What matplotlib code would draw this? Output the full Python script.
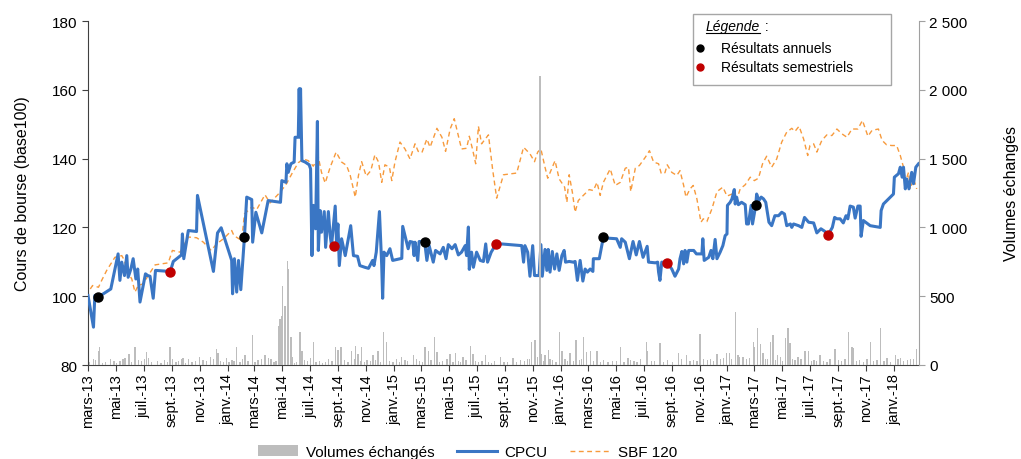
import matplotlib
matplotlib.use("Agg")
import matplotlib.pyplot as plt
from matplotlib.lines import Line2D
from matplotlib.patches import Patch, Rectangle
import pandas as pd
import numpy as np

plt.rcParams['font.family'] = ['Liberation Sans', 'DejaVu Sans']

START = pd.Timestamp('2013-03-01')

# CPCU share price (base 100): days since 2013-03-01, value
cpcu_days = [0, 12, 15, 22, 50, 66, 70, 74, 80, 85, 88, 94, 99, 105, 109, 114, 126, 131, 136, 143,
             148, 169, 180, 187, 205, 207, 210, 220, 238, 240, 275, 284, 292, 315, 317, 321, 326, 330, 335, 343,
             348, 359, 361, 368, 381, 395, 422, 425, 434, 436, 439, 445, 452, 454, 461, 463, 465, 466, 469, 476,
             485, 488, 491, 494, 499, 503, 505, 509, 512, 518, 521, 527, 531, 534, 542, 545, 548, 551, 556, 564,
             576, 582, 591, 596, 607, 615, 624, 627, 632, 639, 644, 646, 649, 655, 662, 668, 688, 690, 702, 706,
             712, 715, 717, 723, 726, 738, 743, 748, 757, 762, 772, 779, 785, 790, 798, 805, 812, 819, 827, 830,
             834, 836, 841, 845, 852, 860, 867, 872, 876, 884, 895, 906, 951, 955, 958, 964, 969, 975, 979, 984,
             989, 993, 996, 1002, 1006, 1009, 1013, 1018, 1023, 1028, 1033, 1039, 1044, 1047, 1055, 1064, 1068, 1073, 1079, 1085,
             1090, 1095, 1101, 1107, 1108, 1121, 1130, 1137, 1159, 1167, 1170, 1178, 1187, 1195, 1202, 1209, 1217, 1226, 1229, 1244,
             1249, 1251, 1254, 1258, 1270, 1280, 1287, 1295, 1298, 1302, 1306, 1309, 1313, 1317, 1328, 1334, 1346, 1348, 1351, 1361,
             1366, 1370, 1375, 1379, 1386, 1392, 1397, 1401, 1402, 1408, 1412, 1417, 1419, 1422, 1426, 1433, 1441, 1444, 1448, 1454,
             1457, 1464, 1466, 1471, 1476, 1481, 1486, 1493, 1499, 1506, 1514, 1521, 1527, 1532, 1540, 1543, 1547, 1558, 1565, 1571,
             1580, 1591, 1598, 1607, 1616, 1623, 1632, 1637, 1642, 1649, 1656, 1662, 1666, 1671, 1678, 1682, 1688, 1693, 1695, 1700,
             1707, 1715, 1737, 1739, 1744, 1766, 1768, 1777, 1781, 1785, 1788, 1792, 1795, 1800, 1806, 1810, 1815, 1821]
cpcu_vals = [100.2, 91.0, 100.2, 99.7, 102.1, 112.3, 104.6, 109.9, 106.0, 111.8, 105.5, 107.9, 110.9, 105.0, 107.9, 98.3, 106.5, 106.0, 105.8, 99.4,
             107.5, 107.3, 107.0, 110.1, 112.0, 118.1, 110.9, 119.1, 118.8, 129.3, 107.2, 118.4, 119.9, 110.4, 100.7, 110.9, 101.2, 110.4, 101.9, 117.2,
             128.8, 128.1, 115.7, 124.4, 118.4, 127.8, 127.3, 133.6, 133.1, 138.5, 136.0, 138.5, 139.0, 146.2, 146.2, 160.3, 146.2, 160.3, 139.4, 139.0,
             138.2, 137.0, 111.8, 126.4, 119.6, 150.8, 113.3, 124.9, 118.6, 124.6, 114.2, 124.6, 117.6, 114.7, 126.2, 115.2, 121.0, 108.9, 116.7, 111.8,
             120.5, 111.8, 111.6, 108.9, 108.4, 108.1, 110.4, 108.9, 112.8, 124.6, 108.9, 99.4, 112.8, 111.8, 113.8, 110.4, 111.0, 120.3, 113.8, 115.9,
             115.7, 111.8, 115.7, 110.4, 115.9, 115.9, 110.4, 114.7, 109.9, 113.3, 112.3, 114.2, 110.9, 115.0, 113.8, 115.0, 112.0, 112.8, 114.7, 111.8,
             120.1, 107.8, 112.8, 108.4, 112.8, 110.4, 110.1, 115.2, 109.9, 112.8, 115.2, 115.2, 114.7, 109.9, 114.7, 112.8, 105.8, 114.7, 106.0, 106.0,
             106.0, 115.0, 105.8, 113.6, 107.5, 113.6, 107.0, 113.0, 107.9, 112.3, 107.5, 111.8, 113.3, 109.9, 110.1, 109.9, 110.1, 104.6, 110.4, 104.4,
             107.9, 107.0, 107.9, 107.2, 110.9, 110.9, 117.2, 116.9, 116.7, 114.2, 116.7, 115.7, 110.9, 115.9, 112.0, 115.9, 111.3, 114.5, 109.9, 109.7,
             109.9, 107.0, 104.6, 109.9, 109.7, 107.9, 105.8, 107.9, 110.9, 113.0, 109.4, 113.3, 109.9, 113.3, 113.3, 112.3, 112.3, 116.7, 110.4, 111.3,
             113.3, 110.9, 116.5, 110.9, 112.8, 114.7, 117.6, 118.1, 126.4, 127.3, 128.3, 131.0, 126.8, 128.8, 126.6, 127.3, 126.6, 121.0, 121.0, 126.4,
             121.0, 126.4, 129.7, 127.8, 128.8, 128.3, 127.3, 121.5, 120.5, 123.4, 123.4, 124.4, 123.9, 120.5, 121.0, 120.0, 121.0, 120.5, 120.0, 122.9,
             121.5, 121.3, 118.4, 119.6, 118.8, 117.9, 120.0, 122.9, 122.5, 122.5, 121.3, 123.4, 122.5, 126.2, 125.9, 122.7, 126.2, 126.2, 117.4, 122.0,
             121.3, 120.5, 120.0, 124.9, 126.8, 129.7, 134.6, 135.6, 137.5, 134.6, 137.5, 131.2, 134.1, 131.2, 136.0, 132.7, 137.5, 138.5]

# SBF 120 (base 100)
sbf_days = [5, 10, 23, 30, 41, 59, 74, 80, 85, 96, 103, 110, 121, 132, 147, 176, 185, 202, 220, 238,
            253, 270, 282, 297, 315, 320, 337, 343, 359, 370, 388, 399, 421, 434, 447, 461, 472, 483, 494, 505,
            512, 520, 531, 544, 556, 567, 575, 586, 593, 600, 610, 620, 629, 637, 644, 651, 661, 666, 673, 684,
            695, 706, 717, 724, 732, 743, 750, 765, 776, 784, 794, 803, 812, 819, 830, 836, 843, 850, 856, 863,
            871, 878, 887, 896, 911, 940, 955, 969, 979, 986, 993, 1002, 1008, 1017, 1024, 1033, 1045, 1050, 1055, 1062,
            1068, 1075, 1086, 1099, 1108, 1116, 1123, 1130, 1145, 1156, 1167, 1178, 1185, 1190, 1200, 1209, 1222, 1231, 1240, 1251,
            1257, 1265, 1270, 1280, 1291, 1298, 1306, 1311, 1320, 1327, 1335, 1344, 1349, 1357, 1368, 1379, 1392, 1401, 1412, 1423,
            1430, 1441, 1452, 1461, 1470, 1479, 1488, 1499, 1510, 1521, 1532, 1543, 1550, 1559, 1569, 1578, 1583, 1591, 1598, 1609,
            1620, 1631, 1642, 1653, 1664, 1675, 1688, 1698, 1710, 1719, 1733, 1741, 1751, 1762, 1773, 1781, 1788, 1792, 1799, 1803,
            1810, 1817]
sbf_vals = [102.1, 103.1, 102.6, 104.6, 107.5, 111.3, 111.8, 110.4, 107.5, 105.0, 101.2, 103.1, 103.6, 106.0, 109.1, 109.7, 113.3, 112.8, 117.2, 117.0,
            115.7, 113.3, 115.2, 116.7, 119.1, 117.6, 116.2, 123.9, 125.9, 125.2, 129.5, 127.1, 130.2, 132.4, 135.6, 138.8, 139.9, 139.4, 137.8, 140.4,
            136.0, 132.9, 137.5, 141.9, 139.0, 138.0, 135.1, 128.8, 135.1, 139.1, 134.9, 136.5, 141.1, 139.0, 133.1, 138.2, 137.5, 133.6, 139.0, 144.8,
            142.8, 139.9, 144.3, 142.1, 141.7, 145.7, 143.3, 148.8, 146.2, 142.1, 148.6, 151.6, 146.7, 142.8, 143.0, 146.5, 142.8, 138.5, 149.4, 144.3,
            145.7, 146.9, 137.0, 128.5, 135.3, 135.8, 143.3, 141.4, 139.1, 141.9, 142.8, 137.5, 134.3, 137.2, 139.4, 134.1, 131.7, 127.3, 135.3, 130.2,
            124.4, 127.8, 129.3, 131.0, 130.7, 133.1, 129.3, 133.1, 137.0, 132.2, 133.1, 137.2, 137.5, 130.4, 137.2, 138.0, 140.4, 142.3, 139.0, 138.5,
            135.6, 135.9, 138.2, 136.0, 135.1, 136.5, 132.2, 128.8, 131.2, 132.2, 128.3, 121.5, 122.5, 121.7, 125.4, 130.4, 131.7, 129.1, 129.7, 128.3,
            131.2, 132.4, 134.6, 133.6, 134.3, 138.5, 140.7, 137.5, 139.9, 144.8, 147.7, 148.8, 147.9, 149.4, 145.7, 140.9, 143.8, 144.3, 141.9, 145.3,
            146.9, 146.7, 148.6, 147.2, 146.2, 148.6, 148.6, 151.1, 146.5, 148.2, 148.6, 145.3, 144.0, 143.8, 143.8, 140.9, 137.5, 133.1, 136.0, 131.2,
            134.1, 131.2]

# Results publications
annual_days = [22, 343, 738, 1130, 1464]
annual_vals = [99.7, 117.2, 115.9, 117.2, 126.4]
semester_days = [180, 539, 895, 1270, 1623]
semester_vals = [107.0, 114.7, 115.2, 109.7, 117.9]

# Traded volumes (right axis): the visible taller bars
vol_days = [12, 24, 26, 50, 70, 81, 90, 103, 129, 132, 180, 186, 205, 208, 282, 285, 309, 326, 344, 360,
            388, 395, 401, 417, 421, 425, 427, 432, 437, 439, 445, 448, 465, 469, 488, 494, 542, 548, 555, 578,
            586, 592, 600, 625, 636, 648, 655, 688, 713, 739, 746, 759, 765, 794, 805, 822, 838, 844, 871, 904,
            932, 973, 980, 991, 995, 1002, 1009, 1033, 1039, 1057, 1070, 1086, 1093, 1101, 1116, 1167, 1184, 1225, 1227, 1254,
            1294, 1313, 1342, 1379, 1400, 1406, 1419, 1425, 1436, 1459, 1461, 1468, 1474, 1480, 1496, 1502, 1511, 1529, 1535, 1539,
            1557, 1572, 1579, 1605, 1638, 1667, 1675, 1678, 1715, 1738, 1752, 1770, 1781, 1816]
vol_vals = [44, 104, 128, 44, 30, 50, 80, 130, 97, 50, 130, 40, 45, 50, 116, 90, 20, 130, 75, 220,
            75, 50, 40, 286, 334, 358, 576, 431, 758, 698, 203, 60, 240, 104, 50, 167, 130, 110, 130, 100,
            140, 80, 130, 75, 100, 237, 170, 60, 70, 130, 100, 201, 95, 80, 90, 60, 140, 80, 70, 55,
            50, 170, 180, 2100, 80, 75, 110, 237, 100, 90, 184, 201, 95, 100, 105, 130, 50, 165, 105, 160,
            90, 75, 225, 80, 90, 90, 383, 75, 60, 167, 130, 267, 150, 90, 167, 218, 75, 194, 267, 160,
            60, 100, 100, 70, 116, 237, 130, 120, 167, 267, 50, 75, 50, 116]

# Traded volumes: small background bars near the baseline
vol_small_days = [4, 17, 31, 38, 57, 63, 77, 96, 110, 117, 124, 140, 152, 160, 167, 174, 193, 199, 214, 221,
                  228, 236, 245, 252, 260, 268, 275, 290, 297, 303, 316, 320, 333, 338, 351, 366, 373, 381, 408, 412,
                  452, 457, 475, 481, 500, 507, 514, 520, 528, 535, 562, 570, 584, 597, 606, 612, 619, 630, 642, 661,
                  669, 676, 683, 695, 701, 720, 727, 733, 752, 771, 778, 787, 800, 812, 817, 829, 849, 856, 864, 878,
                  885, 892, 912, 920, 940, 948, 957, 964, 968, 985, 999, 1013, 1018, 1026, 1046, 1051, 1064, 1077, 1082, 1108,
                  1123, 1131, 1140, 1150, 1158, 1175, 1190, 1197, 1204, 1212, 1236, 1242, 1262, 1270, 1282, 1301, 1320, 1328, 1335, 1350,
                  1358, 1365, 1372, 1387, 1393, 1411, 1428, 1443, 1450, 1486, 1490, 1507, 1518, 1523, 1545, 1550, 1563, 1586, 1592, 1598,
                  1612, 1620, 1627, 1645, 1652, 1660, 1685, 1692, 1700, 1708, 1722, 1730, 1745, 1760, 1776, 1788, 1796, 1803, 1810]
vol_small_vals = [20, 35, 15, 25, 30, 18, 40, 22, 35, 28, 45, 20, 30, 15, 38, 25, 20, 30, 18, 42,
                  25, 30, 55, 35, 28, 60, 45, 30, 25, 50, 35, 28, 22, 40, 30, 25, 35, 45, 20, 30,
                  18, 25, 35, 28, 20, 32, 15, 22, 40, 30, 35, 25, 45, 30, 20, 38, 28, 35, 22, 30,
                  25, 40, 20, 35, 28, 45, 30, 25, 35, 20, 28, 40, 25, 30, 22, 35, 28, 20, 30, 25,
                  18, 30, 22, 25, 20, 35, 28, 45, 40, 55, 30, 40, 35, 25, 45, 30, 28, 35, 40, 30,
                  25, 35, 20, 30, 28, 22, 35, 30, 25, 40, 28, 30, 25, 35, 20, 45, 30, 35, 28, 40,
                  35, 45, 30, 40, 50, 45, 55, 40, 50, 45, 40, 35, 55, 30, 45, 35, 40, 30, 35, 28,
                  30, 25, 40, 35, 28, 45, 30, 35, 25, 40, 28, 35, 30, 25, 40, 30, 35, 45, 40]

tick_labels = ['mars-13', 'mai-13', 'juil.-13', 'sept.-13', 'nov.-13',
               'janv.-14', 'mars-14', 'mai-14', 'juil.-14', 'sept.-14', 'nov.-14',
               'janv.-15', 'mars-15', 'mai-15', 'juil.-15', 'sept.-15', 'nov.-15',
               'janv.-16', 'mars-16', 'mai-16', 'juil.-16', 'sept.-16', 'nov.-16',
               'janv.-17', 'mars-17', 'mai-17', 'juil.-17', 'sept.-17', 'nov.-17',
               'janv.-18']
tick_dates = pd.date_range('2013-03-01', '2018-01-01', freq='2MS')


def to_dates(days):
    return START + pd.to_timedelta(np.asarray(days), unit='D')


BLUE = '#3a76c4'
ORANGE = '#f79a3c'
GREY = '#bdbdbd'

fig = plt.figure(figsize=(10.21, 4.60), dpi=100)
W, H = 1021, 460
ax = fig.add_axes([88 / W, 1 - 366 / H, (919 - 88) / W, (366 - 22) / H])
ax2 = ax.twinx()

ax.plot(to_dates(sbf_days), sbf_vals, color=ORANGE, lw=1.0, dashes=(3.5, 2.5), zorder=2)
ax.plot(to_dates(cpcu_days), cpcu_vals, color=BLUE, lw=2.2, zorder=3, solid_joinstyle='round')
ax.plot(to_dates(annual_days), annual_vals, 'o', color='black', ms=6.5, zorder=4)
ax.plot(to_dates(semester_days), semester_vals, 'o', color='#c00000', ms=6.5, zorder=4)

ax2.bar(to_dates(vol_small_days), vol_small_vals, width=2.8, color=GREY, zorder=1)
ax2.bar(to_dates(vol_days), vol_vals, width=2.8, color=GREY, zorder=1)

ax.set_xlim(START, START + pd.Timedelta(days=1822))
ax.set_ylim(80, 180)
ax.set_yticks(range(80, 181, 20))
ax2.set_ylim(0, 2500)
ax2.set_yticks(range(0, 2501, 500))
ax2.set_yticklabels(['0', '500', '1 000', '1 500', '2 000', '2 500'])

ax.set_xticks(tick_dates)
ax.set_xticklabels(tick_labels, rotation=90)

for a in (ax, ax2):
    a.spines['top'].set_visible(False)
ax.spines['left'].set_color('#404040')
ax.spines['bottom'].set_color('#404040')
ax.spines['right'].set_visible(False)
ax2.spines['left'].set_visible(False)
ax2.spines['bottom'].set_visible(False)
ax2.spines['right'].set_color('#a0a0a0')

ax.tick_params(axis='both', direction='out', length=4, width=0.8, labelsize=11, colors='#404040', labelcolor='black')
ax.tick_params(axis='x', pad=2, labelsize=10.5)
ax2.tick_params(axis='y', direction='out', length=4, width=0.8, labelsize=11, colors='#a0a0a0', labelcolor='black')

ax.set_ylabel('Cours de bourse (base100)', fontsize=11.5, labelpad=16)
ax2.set_ylabel('Volumes échangés', fontsize=11.5, labelpad=26)

# bottom legend
handles = [Patch(facecolor=GREY, edgecolor='none'),
           Line2D([], [], color=BLUE, lw=2.2),
           Line2D([], [], color=ORANGE, lw=1.0, dashes=(3.5, 2.5))]
fig.legend(handles, ['Volumes échangés', 'CPCU', 'SBF 120'], loc='lower center',
           bbox_to_anchor=(0.458, -0.03), ncol=3, frameon=False, fontsize=11,
           handlelength=2.6, columnspacing=1.5, handletextpad=0.5)

# result legend box (top right)
fig.patches.append(Rectangle((693 / W, 1 - 86 / H), (891 - 693) / W, (86 - 15) / H,
                             transform=fig.transFigure, facecolor='white', edgecolor='#a6a6a6',
                             lw=1.0, zorder=5))
t = fig.text(706 / W, 1 - 31 / H, 'Légende', style='italic', fontsize=10, va='baseline', zorder=6)
fig.canvas.draw()
bb = t.get_window_extent(renderer=fig.canvas.get_renderer())
x1 = bb.x1 / fig.dpi / fig.get_figwidth()
x0 = bb.x0 / fig.dpi / fig.get_figwidth()
fig.text(x1 + 1 / W, 1 - 31 / H, ' :', fontsize=10, va='baseline', zorder=6)
fig.add_artist(Line2D([x0, x1], [1 - 33.5 / H, 1 - 33.5 / H], color='black', lw=0.8,
                      transform=fig.transFigure, zorder=6))
fig.add_artist(Line2D([700 / W], [1 - 49 / H], marker='o', color='black', ms=5,
                      transform=fig.transFigure, zorder=6))
fig.add_artist(Line2D([700 / W], [1 - 68 / H], marker='o', color='#c00000', ms=5,
                      transform=fig.transFigure, zorder=6))
fig.text(721 / W, 1 - 49 / H, 'Résultats annuels', fontsize=10, va='center', zorder=6)
fig.text(721 / W, 1 - 68 / H, 'Résultats semestriels', fontsize=10, va='center', zorder=6)

fig.savefig('out.png', dpi=100)
